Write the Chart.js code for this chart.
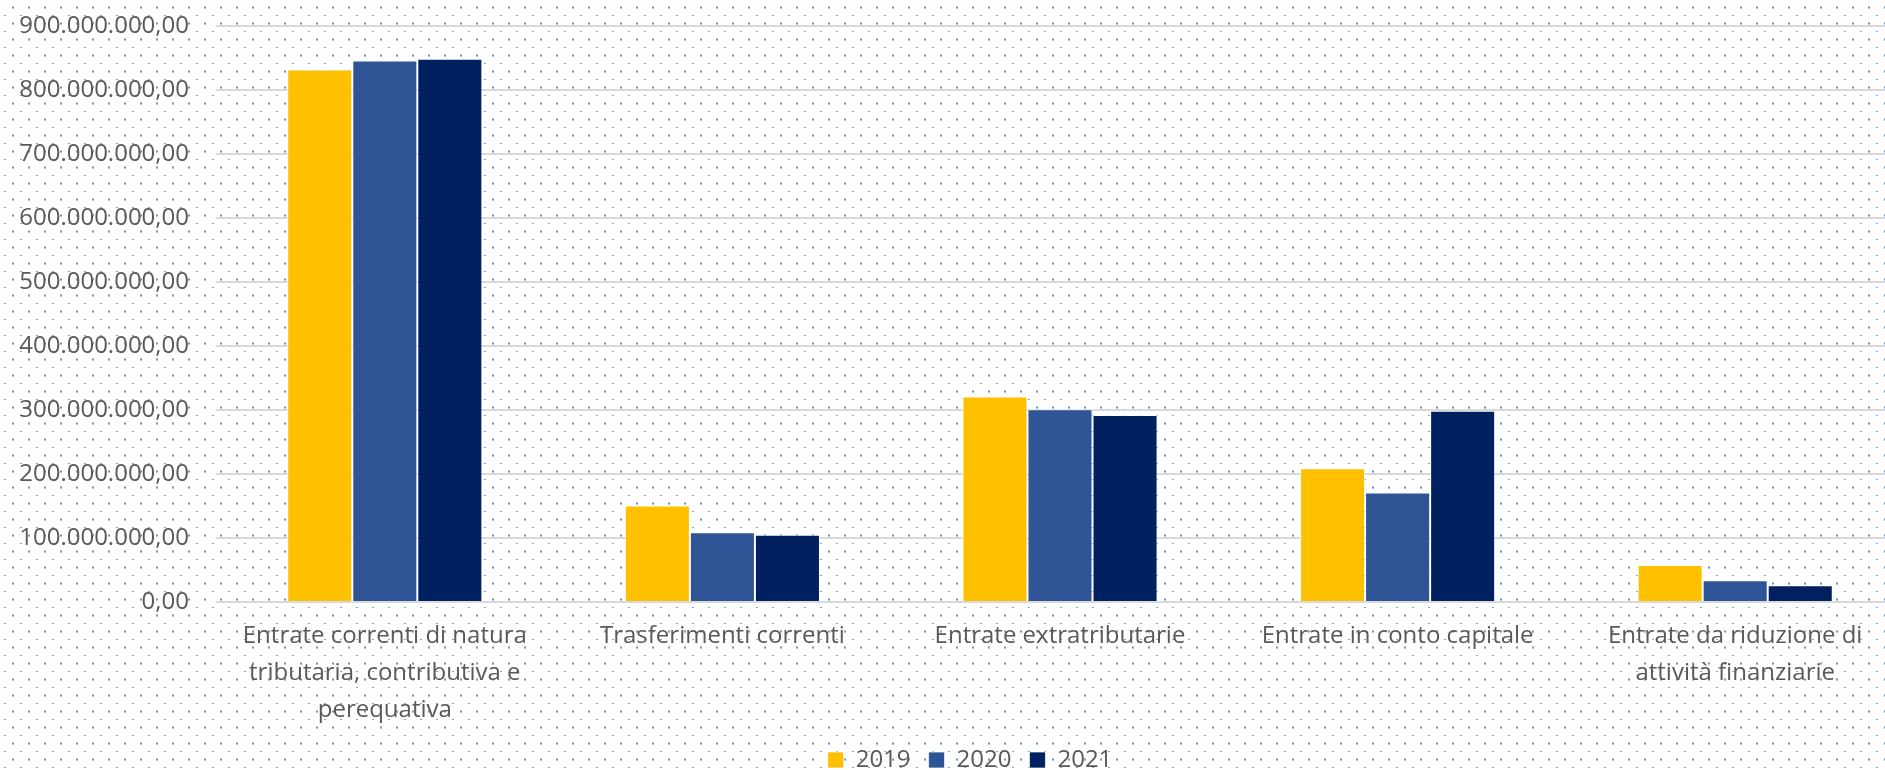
<!DOCTYPE html>
<html><head><meta charset="utf-8">
<script src="https://cdn.jsdelivr.net/npm/chart.js@4.4.1/dist/chart.umd.min.js"></script>
<style>
html,body{margin:0;padding:0;overflow:hidden;background:#fff;width:1885px;height:770px}
#wrap{position:relative;width:1885px;height:770px;overflow:hidden}
</style></head>
<body><div id="wrap"><canvas id="c" width="1904" height="782" style="width:1904px;height:782px"></canvas></div>
<script>
const categories = [
  ["Entrate correnti di natura", "tributaria, contributiva e", "perequativa"],
  "Trasferimenti correnti",
  "Entrate extratributarie",
  "Entrate in conto capitale",
  ["Entrate da riduzione di", "attività finanziarie"]
];
const seriesNames = ["2019", "2020", "2021"];
const values2019 = [832000000, 150700000, 321000000, 209000000, 58000000];
const values2020 = [846000000, 109000000, 301000000, 171000000, 34000000];
const values2021 = [849000000, 105000000, 292000000, 299000000, 26000000];
const yMin = 0;
const yMax = 900000000;
const yStep = 100000000;

const colors = ["#FFC000", "#2F5597", "#002060"];
const FONT = "'Open Sans', 'Liberation Sans', sans-serif";
const TEXT = "#595959";

function fmt(v) {
  const s = Math.round(v).toString().replace(/\B(?=(\d{3})+(?!\d))/g, ".");
  return s + ",00";
}

// dotted background pattern
function makePattern(ctx) {
  const t = document.createElement("canvas");
  t.width = 16; t.height = 16;
  const c = t.getContext("2d");
  c.fillStyle = "rgba(91,155,213,0.55)";
  c.fillRect(12, 6, 2, 1);
  c.fillRect(12, 8, 2, 1);
  c.fillStyle = "rgba(91,155,213,0.95)";
  c.fillRect(12, 7, 2, 1);
  c.fillStyle = "rgba(91,155,213,0.85)";
  c.fillRect(4, 15, 2, 1);
  return ctx.createPattern(t, "repeat");
}

const bgPlugin = {
  id: "bg",
  beforeDraw(chart) {
    const ctx = chart.ctx;
    ctx.save();
    ctx.fillStyle = "#ffffff";
    ctx.fillRect(0, 0, chart.width, chart.height);
    ctx.fillStyle = makePattern(ctx);
    ctx.fillRect(0, 0, chart.width, chart.height);
    ctx.restore();
  }
};

const legendShift = {
  id: "legendShift",
  afterLayout(chart) {
    if (chart.legend) {
      chart.legend.left += 12;
      chart.legend.right += 12;
    }
  }
};

const datasets = [values2019, values2020, values2021].map((vals, i) => ({
  label: seriesNames[i],
  data: vals,
  backgroundColor: colors[i],
  borderColor: "rgba(255,255,255,0.7)",
  borderWidth: 1,
  categoryPercentage: 0.578,
  barPercentage: 1.0
}));

new Chart(document.getElementById("c"), {
  type: "bar",
  data: { labels: categories, datasets },
  plugins: [bgPlugin, legendShift],
  options: {
    responsive: false,
    animation: false,
    devicePixelRatio: 1,
    layout: { padding: { top: 26, left: 12, right: 0, bottom: 0 } },
    plugins: {
      legend: {
        position: "bottom",
        labels: {
          font: { family: FONT, size: 24 },
          color: TEXT,
          boxWidth: 16,
          boxHeight: 16,
          padding: 18
        }
      },
      tooltip: { enabled: false }
    },
    scales: {
      x: {
        grid: { display: false, drawTicks: false },
        border: { display: false },
        ticks: {
          font: { family: FONT, size: 24, lineHeight: "37px" },
          color: TEXT,
          padding: 16,
          maxRotation: 0,
          autoSkip: false
        },
        afterFit(s) { s.height = 128; }
      },
      y: {
        min: yMin,
        max: yMax,
        grid: { color: "#D9D9D9", lineWidth: 2, drawTicks: false },
        border: { display: false },
        ticks: {
          stepSize: yStep,
          font: { family: FONT, size: 24 },
          color: TEXT,
          padding: 27,
          callback: (v) => fmt(v)
        },
        afterFit(s) { s.width = 204; s.paddingTop = 0; s.paddingBottom = 0; }
      }
    }
  }
});
</script>
</body></html>
